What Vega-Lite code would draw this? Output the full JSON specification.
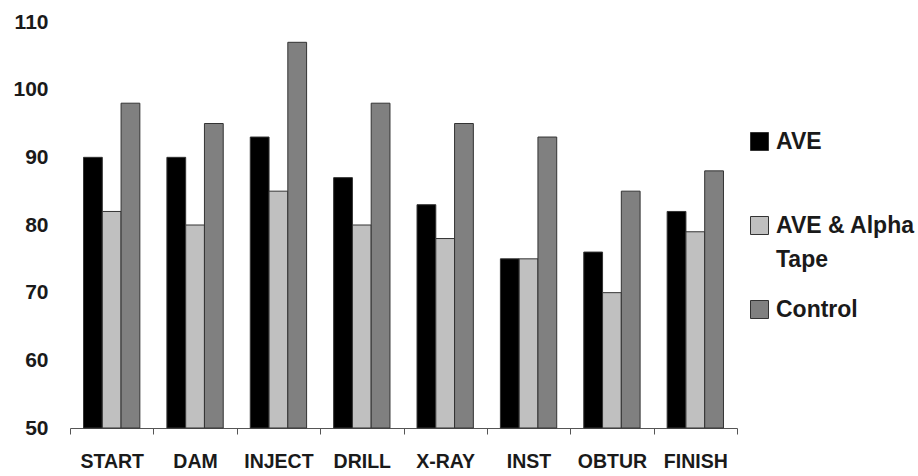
{
  "$schema": "https://vega.github.io/schema/vega-lite/v6.json",
  "width": 667,
  "height": 406,
  "autosize": "none",
  "padding": {"left": 70, "top": 22, "right": 181, "bottom": 48},
  "background": "white",
  "config": {
    "view": {"stroke": null},
    "font": "Liberation Sans",
    "style": {"guide-label": {"lineHeight": 34}}
  },
  "data": {
    "values": [
      {"stage": "START", "series": "AVE", "value": 90},
      {"stage": "START", "series": "AVE & Alpha Tape", "value": 82},
      {"stage": "START", "series": "Control", "value": 98},
      {"stage": "DAM", "series": "AVE", "value": 90},
      {"stage": "DAM", "series": "AVE & Alpha Tape", "value": 80},
      {"stage": "DAM", "series": "Control", "value": 95},
      {"stage": "INJECT", "series": "AVE", "value": 93},
      {"stage": "INJECT", "series": "AVE & Alpha Tape", "value": 85},
      {"stage": "INJECT", "series": "Control", "value": 107},
      {"stage": "DRILL", "series": "AVE", "value": 87},
      {"stage": "DRILL", "series": "AVE & Alpha Tape", "value": 80},
      {"stage": "DRILL", "series": "Control", "value": 98},
      {"stage": "X-RAY", "series": "AVE", "value": 83},
      {"stage": "X-RAY", "series": "AVE & Alpha Tape", "value": 78},
      {"stage": "X-RAY", "series": "Control", "value": 95},
      {"stage": "INST", "series": "AVE", "value": 75},
      {"stage": "INST", "series": "AVE & Alpha Tape", "value": 75},
      {"stage": "INST", "series": "Control", "value": 93},
      {"stage": "OBTUR", "series": "AVE", "value": 76},
      {"stage": "OBTUR", "series": "AVE & Alpha Tape", "value": 70},
      {"stage": "OBTUR", "series": "Control", "value": 85},
      {"stage": "FINISH", "series": "AVE", "value": 82},
      {"stage": "FINISH", "series": "AVE & Alpha Tape", "value": 79},
      {"stage": "FINISH", "series": "Control", "value": 88}
    ]
  },
  "mark": {"type": "bar", "stroke": "#333333", "strokeWidth": 1},
  "encoding": {
    "x": {
      "field": "stage",
      "type": "nominal",
      "sort": ["START", "DAM", "INJECT", "DRILL", "X-RAY", "INST", "OBTUR", "FINISH"],
      "scale": {"paddingInner": 0, "paddingOuter": 0},
      "axis": {
        "title": null,
        "labelAngle": 0,
        "tickBand": "extent",
        "domainColor": "#555555",
        "tickColor": "#555555",
        "tickSize": 6,
        "labelPadding": 18,
        "labelFontSize": 19.5,
        "labelFontWeight": "bold",
        "labelColor": "#1a1a1a"
      }
    },
    "xOffset": {
      "field": "series",
      "type": "nominal",
      "sort": ["AVE", "AVE & Alpha Tape", "Control"],
      "scale": {"paddingInner": 0, "paddingOuter": 0.72}
    },
    "y": {
      "field": "value",
      "type": "quantitative",
      "scale": {"domain": [50, 110], "zero": false, "nice": false},
      "axis": {
        "title": null,
        "values": [50, 60, 70, 80, 90, 100, 110],
        "domain": false,
        "ticks": false,
        "grid": false,
        "labelPadding": 22,
        "labelFontSize": 21,
        "labelFontWeight": "bold",
        "labelColor": "#1a1a1a"
      }
    },
    "y2": {"datum": 50},
    "color": {
      "field": "series",
      "type": "nominal",
      "sort": ["AVE", "AVE & Alpha Tape", "Control"],
      "scale": {
        "domain": ["AVE", "AVE & Alpha Tape", "Control"],
        "range": ["#000000", "#c0c0c0", "#808080"]
      },
      "legend": {
        "title": null,
        "orient": "none",
        "legendX": 678,
        "legendY": 108,
        "gridAlign": "all",
        "symbolType": "square",
        "symbolSize": 324,
        "symbolStrokeColor": "#333333",
        "symbolStrokeWidth": 1,
        "symbolOpacity": 1,
        "labelFontSize": 23,
        "labelFontWeight": "bold",
        "labelColor": "#1a1a1a",
        "labelLimit": 300,
        "labelOffset": 5,
        "rowPadding": 26,
        "labelExpr": "datum.label == 'AVE & Alpha Tape' ? ['AVE & Alpha', 'Tape'] : datum.label"
      }
    }
  }
}
